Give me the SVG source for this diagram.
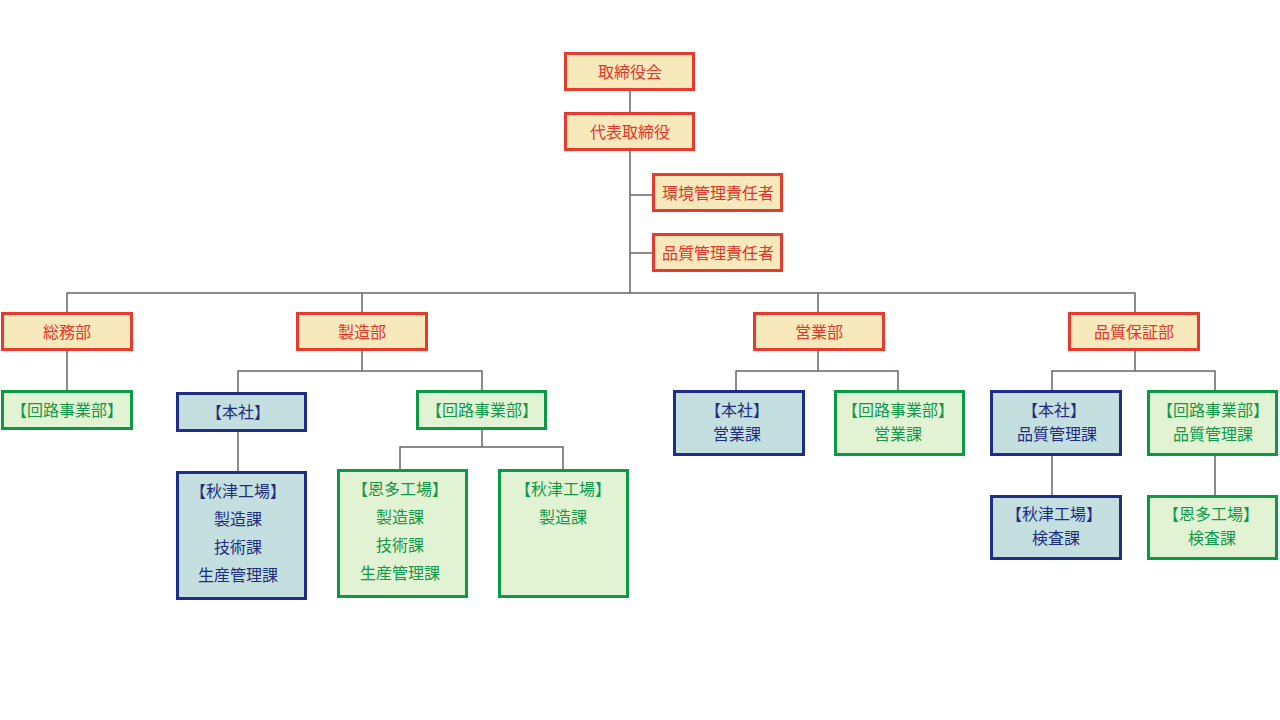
<svg xmlns="http://www.w3.org/2000/svg" width="1280" height="720" viewBox="0 0 1280 720">
<style>
.r rect{fill:#f8e9bc;stroke:#e63c2f;stroke-width:3}
.r text{fill:#e3352a}
.b rect{fill:#c4dfdf;stroke:#1e2d86;stroke-width:3}
.b text{fill:#1f2d7f}
.g rect{fill:#e2f3d3;stroke:#0a9a45;stroke-width:3}
.g text{fill:#11984a}
text{font-family:"Noto Sans CJK JP","Noto Sans CJK SC",sans-serif;font-size:16px;font-weight:400;text-anchor:middle;dominant-baseline:central}
#connectors path{fill:none;stroke:#666;stroke-width:1.5}
</style>
<rect width="1280" height="720" fill="#fff"/>
<g id="connectors">
<path d="M630 90V293M630 195H652M630 253H652"/>
<path d="M67 312V293H1135V312M362 293V312M818 293V312"/>
<path d="M67 351V390"/>
<path d="M362 351V371M238 392V371H482V390M238 431V471"/>
<path d="M482 429V447M400 469V447H563V469"/>
<path d="M818 351V371M736 390V371H898V390"/>
<path d="M1135 351V371M1052 390V371H1215V390M1052 455V495M1215 455V495"/>
</g>
<g id="n1" class="r"><rect x="565.5" y="53.5" width="128" height="36"/><text x="630" y="71">取締役会</text></g>
<g id="n2" class="r"><rect x="565.5" y="113.5" width="128" height="36"/><text x="630" y="131">代表取締役</text></g>
<g id="n3" class="r"><rect x="653.5" y="174.5" width="128" height="36"/><text x="718" y="192">環境管理責任者</text></g>
<g id="n4" class="r"><rect x="653.5" y="234.5" width="128" height="36"/><text x="718" y="252">品質管理責任者</text></g>
<g id="n5" class="r"><rect x="2.5" y="313.5" width="129" height="36"/><text x="67" y="331">総務部</text></g>
<g id="n6" class="r"><rect x="297.5" y="313.5" width="129" height="36"/><text x="362" y="331">製造部</text></g>
<g id="n7" class="r"><rect x="754.5" y="313.5" width="129" height="36"/><text x="819" y="331">営業部</text></g>
<g id="n8" class="r"><rect x="1069.5" y="313.5" width="129" height="36"/><text x="1134" y="331">品質保証部</text></g>
<g id="n9" class="g"><rect x="2.5" y="391.5" width="129" height="37"/><text x="67" y="409">【回路事業部】</text></g>
<g id="n10" class="b"><rect x="177.5" y="393.5" width="128" height="37"/><text x="238" y="411">【本社】</text></g>
<g id="n11" class="g"><rect x="417.5" y="391.5" width="128" height="37"/><text x="482" y="409">【回路事業部】</text></g>
<g id="n12" class="b"><rect x="177.5" y="472.5" width="128" height="126"/><text x="238" y="490">【秋津工場】</text><text x="238" y="518">製造課</text><text x="238" y="546">技術課</text><text x="238" y="574">生産管理課</text></g>
<g id="n13" class="g"><rect x="338.5" y="470.5" width="128" height="126"/><text x="400" y="488">【恩多工場】</text><text x="400" y="516">製造課</text><text x="400" y="544">技術課</text><text x="400" y="572">生産管理課</text></g>
<g id="n14" class="g"><rect x="499.5" y="470.5" width="128" height="126"/><text x="563" y="488">【秋津工場】</text><text x="563" y="516">製造課</text></g>
<g id="n15" class="b"><rect x="674.5" y="391.5" width="129" height="63"/><text x="737" y="409">【本社】</text><text x="737" y="433">営業課</text></g>
<g id="n16" class="g"><rect x="835.5" y="391.5" width="128" height="63"/><text x="898" y="409">【回路事業部】</text><text x="898" y="433">営業課</text></g>
<g id="n17" class="b"><rect x="991.5" y="391.5" width="129" height="63"/><text x="1054" y="409">【本社】</text><text x="1057" y="433">品質管理課</text></g>
<g id="n18" class="g"><rect x="1148.5" y="391.5" width="128" height="63"/><text x="1213" y="409">【回路事業部】</text><text x="1213" y="433">品質管理課</text></g>
<g id="n19" class="b"><rect x="991.5" y="496.5" width="129" height="62"/><text x="1054" y="513">【秋津工場】</text><text x="1056" y="537">検査課</text></g>
<g id="n20" class="g"><rect x="1148.5" y="496.5" width="128" height="62"/><text x="1211" y="513">【恩多工場】</text><text x="1212" y="537">検査課</text></g>
</svg>
